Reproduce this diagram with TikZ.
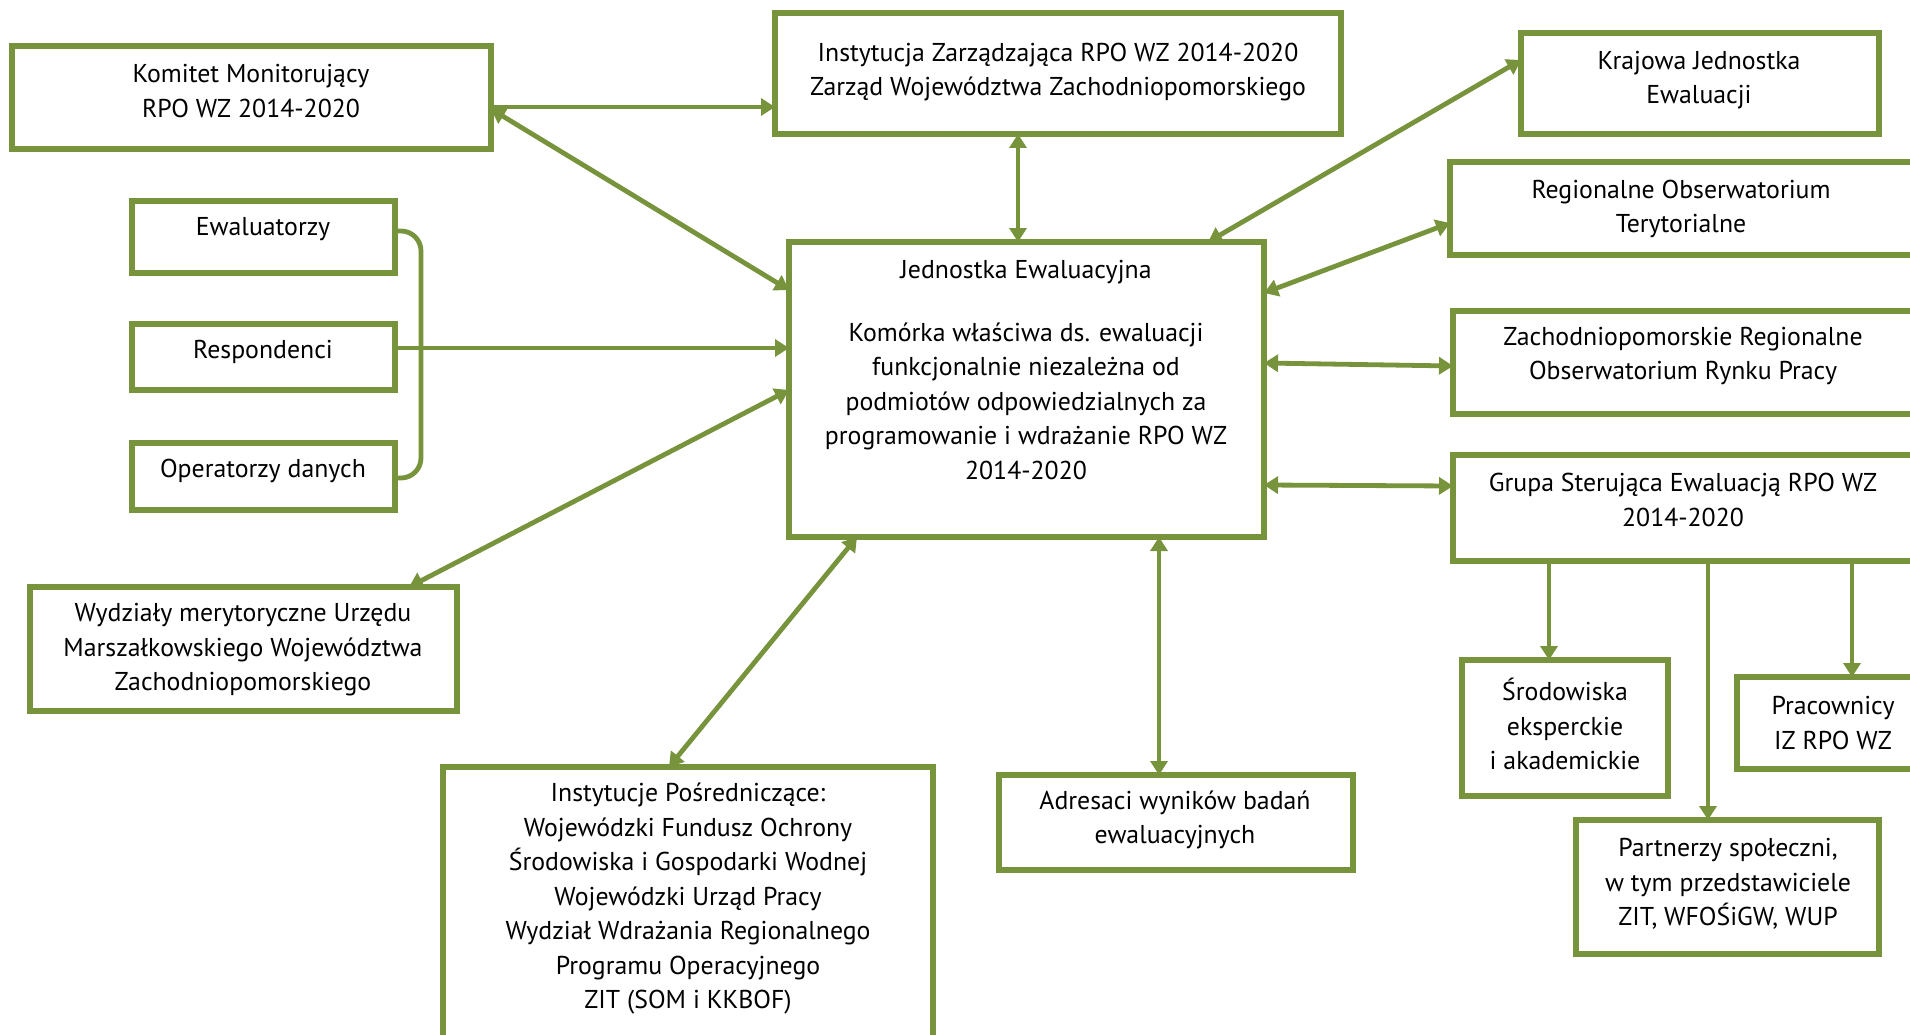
\documentclass[tikz,border=0pt]{standalone}
\usepackage{fontspec}
\setmainfont{PT Sans}
\usetikzlibrary{arrows.meta,calc}
\definecolor{ogreen}{RGB}{119,147,60}
\begin{document}
\begin{tikzpicture}[x=1pt,y=-1pt,
  box/.style={draw=ogreen, line width=5.5pt, rectangle, anchor=north west, inner sep=0pt, outer sep=0pt},
  txt/.style={align=center, font=\fontsize{25.8pt}{34.5pt}\selectfont, inner sep=0pt, text=black},
  conn/.style={draw=ogreen, line width=4.8pt},
  both/.style={conn, {Triangle[length=14pt,width=17pt]}-{Triangle[length=14pt,width=17pt]}},
  one/.style={conn, -{Triangle[length=14pt,width=17pt]}},
]
\clip (0,0) rectangle (1910,1035);
\fill[white] (0,0) rectangle (1910,1035);

% boxes
\node[box, minimum width=479pt, minimum height=103pt] (km) at (12,46) {};
\node[box, minimum width=566pt, minimum height=121pt] (iz) at (775,13) {};
\node[box, minimum width=358pt, minimum height=101pt] (kje) at (1521,33) {};
\node[box, minimum width=480pt, minimum height=93pt] (rot) at (1450,162) {};
\node[box, minimum width=477pt, minimum height=103pt] (zror) at (1453,311) {};
\node[box, minimum width=477pt, minimum height=106pt] (gs) at (1453,455) {};
\node[box, minimum width=475pt, minimum height=295pt] (je) at (789,242) {};
\node[box, minimum width=263pt, minimum height=72pt] (ew) at (132,201) {};
\node[box, minimum width=263pt, minimum height=66pt] (resp) at (132,324) {};
\node[box, minimum width=263pt, minimum height=67pt] (op) at (132,443) {};
\node[box, minimum width=427pt, minimum height=124pt] (wyd) at (30,587) {};
\node[box, minimum width=490pt, minimum height=293pt] (ip) at (443,767) {};
\node[box, minimum width=354pt, minimum height=95pt] (adr) at (999,775) {};
\node[box, minimum width=206pt, minimum height=136pt] (sr) at (1462,660) {};
\node[box, minimum width=193pt, minimum height=92pt] (prac) at (1737,677) {};
\node[box, minimum width=303pt, minimum height=134pt] (part) at (1576,820) {};

% texts
\node[txt] (kmt) at (251,91) {Komitet Monitorujący\\RPO WZ 2014-2020};
\node[txt] (izt) at (1058,72) {Instytucja Zarządzająca RPO WZ 2014-2020\\Zarząd Województwa Zachodniopomorskiego};
\node[txt] (kjet) at (1699,80) {Krajowa Jednostka\\Ewaluacji};
\node[txt] (rott) at (1681,209) {Regionalne Obserwatorium\\Terytorialne};
\node[txt] (zrort) at (1683,356) {Zachodniopomorskie Regionalne\\Obserwatorium Rynku Pracy};
\node[txt] (gst) at (1683,500) {Grupa Sterująca Ewaluacją RPO WZ\\2014-2020};
\node[txt] (jet1) at (1026,272) {Jednostka Ewaluacyjna};
\node[txt] (jet2) at (1026,401) {Komórka właściwa ds. ewaluacji\\funkcjonalnie niezależna od\\podmiotów odpowiedzialnych za\\programowanie i wdrażanie RPO WZ\\2014-2020};
\node[txt] (ewt) at (263,229) {Ewaluatorzy};
\node[txt] (respt) at (263,352) {Respondenci};
\node[txt] (opt) at (263,471) {Operatorzy danych};
\node[txt] (wydt) at (243,650) {Wydziały merytoryczne Urzędu\\Marszałkowskiego Województwa\\Zachodniopomorskiego};
\node[txt] (ipt) at (688,899) {Instytucje Pośredniczące:\\Wojewódzki Fundusz Ochrony\\Środowiska i Gospodarki Wodnej\\Wojewódzki Urząd Pracy\\Wydział Wdrażania Regionalnego\\Programu Operacyjnego\\ZIT (SOM i KKBOF)};
\node[txt] (adrt) at (1175,820) {Adresaci wyników badań\\ewaluacyjnych};
\node[txt] (srt) at (1565,724) {Środowiska\\eksperckie\\i akademickie};
\node[txt] (pract) at (1833,723) {Pracownicy\\IZ RPO WZ};
\node[txt] (partt) at (1728,884) {Partnerzy społeczni,\\w tym przedstawiciele\\ZIT, WFOŚiGW, WUP};

% bracket
\coordinate (bt) at (421,231);
\coordinate (bb) at (421,478);
\draw[conn, rounded corners=20pt] ($(ew.north east)+(0,30)$) -- (bt) -- (bb) -- ($(op.north east)+(0,35)$);

% connectors
\draw[one] ($(km.north east)+(0,61)$) -- ($(iz.north west)+(0,94)$);
\draw[both] ($(km.north east)+(0,63)$) -- ($(je.north west)+(0,48)$);
\draw[both] ($(iz.south west)+(243,0)$) -- ($(je.north west)+(229,0)$);
\draw[both] ($(kje.north west)+(0,27)$) -- ($(je.north west)+(419,0)$);
\draw[both] ($(rot.north west)+(0,61)$) -- ($(je.north east)+(0,51)$);
\draw[both] ($(zror.north west)+(0,55)$) -- ($(je.north east)+(0,121)$);
\draw[both] ($(gs.north west)+(0,31)$) -- ($(je.north east)+(0,243)$);
\draw[one] ($(resp.north east)+(0,24)$) -- ($(je.north west)+(0,106)$);
\draw[both] ($(je.north west)+(0,148)$) -- ($(wyd.north west)+(379,0)$);
\draw[both] ($(je.south west)+(68,0)$) -- ($(ip.north west)+(226,0)$);
\draw[both] ($(je.south west)+(370,0)$) -- ($(adr.north west)+(160,0)$);
\draw[one] ($(gs.south west)+(96,0)$) -- ($(sr.north west)+(87,0)$);
\draw[one] ($(gs.south west)+(255,0)$) -- ($(part.north west)+(132,0)$);
\draw[one] ($(gs.south west)+(399,0)$) -- ($(prac.north west)+(115,0)$);
\end{tikzpicture}
\end{document}
